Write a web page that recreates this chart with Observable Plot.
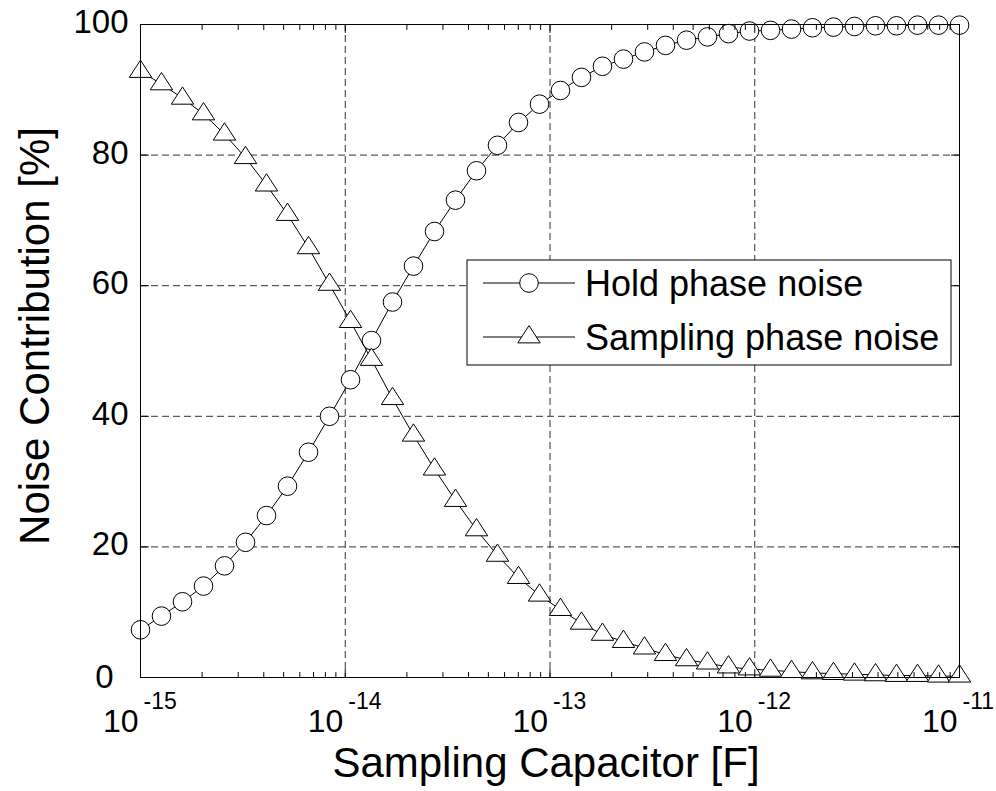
<!DOCTYPE html>
<html><head><meta charset="utf-8">
<script src="https://cdn.jsdelivr.net/npm/d3@7"></script>
<script src="https://cdn.jsdelivr.net/npm/@observablehq/plot@0.6"></script>
<style>
body{margin:0;background:#fff;}
#chart{position:relative;width:996px;height:791px;}
</style></head><body><div id="chart"></div>
<script>
// Sampling capacitor values [F] (40 log-spaced points from 1e-15 to 1e-11)
const capacitance = [
  1.000e-15, 1.266e-15, 1.604e-15, 2.031e-15, 2.572e-15, 3.257e-15, 4.125e-15, 5.223e-15, 6.615e-15, 8.377e-15,
  1.061e-14, 1.343e-14, 1.701e-14, 2.154e-14, 2.728e-14, 3.455e-14, 4.375e-14, 5.540e-14, 7.016e-14, 8.885e-14,
  1.125e-13, 1.425e-13, 1.804e-13, 2.285e-13, 2.894e-13, 3.665e-13, 4.642e-13, 5.878e-13, 7.443e-13, 9.427e-13,
  1.194e-12, 1.512e-12, 1.914e-12, 2.424e-12, 3.070e-12, 3.888e-12, 4.924e-12, 6.236e-12, 7.897e-12, 1.000e-11
];
// Hold phase noise contribution [%]
const holdNoise = [
  7.3, 9.4, 11.6, 14.0, 17.1, 20.7, 24.8, 29.3, 34.5, 40.0,
  45.6, 51.6, 57.5, 63.0, 68.3, 73.1, 77.6, 81.5, 85.0, 87.8,
  89.9, 91.9, 93.6, 94.7, 95.8, 96.8, 97.6, 98.1, 98.6, 99.0,
  99.1, 99.3, 99.5, 99.6, 99.7, 99.8, 99.8, 99.9, 99.9, 99.9
];
// Sampling phase noise contribution [%]
const samplingNoise = [
  92.8, 90.9, 88.7, 86.3, 83.2, 79.6, 75.4, 70.9, 65.8, 60.2,
  54.5, 48.7, 42.7, 37.1, 31.9, 27.1, 22.6, 18.7, 15.3, 12.6,
  10.4, 8.3, 6.6, 5.5, 4.5, 3.5, 2.7, 2.2, 1.6, 1.3,
  1.1, 0.9, 0.7, 0.6, 0.5, 0.4, 0.3, 0.3, 0.2, 0.2
];
const seriesNames = ["Hold phase noise", "Sampling phase noise"];
const xDomain = [1e-15, 1e-11];
const xMajorTicks = [1e-15, 1e-14, 1e-13, 1e-12, 1e-11];
const xTickBase = ["10", "10", "10", "10", "10"];
const xTickExponents = ["-15", "-14", "-13", "-12", "-11"];
const yTicks = [0, 20, 40, 60, 80, 100];
const yTickLabels = ["0", "20", "40", "60", "80", "100"];
const xLabel = "Sampling Capacitor [F]";
const yLabel = "Noise Contribution [%]";

const hold = capacitance.map((c, i) => ({c, v: holdNoise[i]}));
const samp = capacitance.map((c, i) => ({c, v: samplingNoise[i]}));
const xMinorTicks = d3.scaleLog().domain(xDomain).ticks()
  .filter(t => !xMajorTicks.some(m => Math.abs(m - t) / m < 1e-6));
const xTicksLab = xMajorTicks.map((t, i) => ({t, base: xTickBase[i], exp: xTickExponents[i]}));
const yTicksLab = yTicks.map((t, i) => ({t, label: yTickLabels[i]}));

const font = '"Liberation Sans", Arial, Helvetica, sans-serif';
const tickShape = {draw(ctx, l) { ctx.moveTo(0, 0); ctx.lineTo(0, -l); }};
const triangle = {draw(ctx, size) {
  const r = Math.sqrt(size / Math.PI);
  ctx.moveTo(0, -r * 1.2);
  ctx.lineTo(r * 1.18, r * 0.62);
  ctx.lineTo(-r * 1.18, r * 0.62);
  ctx.closePath();
}};
const grid = {stroke: "#333", strokeWidth: 1, strokeDasharray: "7,4"};
const tk = (data, opts) => Plot.vector(data, {anchor: "start", shape: tickShape, stroke: "#000", strokeWidth: 1, ...opts});

const plot = Plot.plot({
  width: 996, height: 791,
  marginLeft: 140, marginRight: 37, marginTop: 24, marginBottom: 114,
  style: {fontFamily: font, background: "#fff", color: "#000", overflow: "visible"},
  x: {type: "log", domain: xDomain, axis: null},
  y: {domain: [0, 100], axis: null},
  marks: [
    Plot.ruleX(xMajorTicks.slice(1, -1), {x: d => d, ...grid}),
    Plot.ruleY(yTicks.slice(1, -1), {y: d => d, ...grid}),
    Plot.line(hold, {x: "c", y: "v", stroke: "#000", strokeWidth: 1}),
    Plot.dot(hold, {x: "c", y: "v", r: 9.3, symbol: "circle", fill: "#fff", stroke: "#000", strokeWidth: 1}),
    Plot.line(samp, {x: "c", y: "v", stroke: "#000", strokeWidth: 1}),
    Plot.dot(samp, {x: "c", y: "v", r: 9.5, symbol: triangle, fill: "#fff", stroke: "#000", strokeWidth: 1}),
    Plot.frame({stroke: "#000", strokeWidth: 1}),
    // inward ticks
    tk(xMajorTicks, {x: d => d, frameAnchor: "bottom", rotate: 0, length: 8}),
    tk(xMinorTicks, {x: d => d, frameAnchor: "bottom", rotate: 0, length: 5}),
    tk(xMajorTicks, {x: d => d, frameAnchor: "top", rotate: 180, length: 8}),
    tk(xMinorTicks, {x: d => d, frameAnchor: "top", rotate: 180, length: 5}),
    tk(yTicks, {y: d => d, frameAnchor: "left", rotate: 90, length: 8}),
    tk(yTicks, {y: d => d, frameAnchor: "right", rotate: -90, length: 8}),
    // x tick labels: 10 with exponent
    Plot.text(xTicksLab, {x: "t", text: "base", frameAnchor: "bottom", textAnchor: "end", lineAnchor: "middle",
      fontSize: 32, dx: -2, dy: 44.5, fill: "#000"}),
    Plot.text(xTicksLab, {x: "t", text: "exp", frameAnchor: "bottom", textAnchor: "start", lineAnchor: "middle",
      fontSize: 23, dx: 3, dy: 24.5, fill: "#000"}),
    // y tick labels
    Plot.text(yTicksLab.filter(d => d.t > 0), {y: "t", text: "label", frameAnchor: "left", textAnchor: "end", lineAnchor: "middle",
      fontSize: 33, dx: -12, dy: -2, fill: "#000"}),
    Plot.text(yTicksLab.filter(d => d.t === 0), {y: "t", text: "label", frameAnchor: "left", textAnchor: "end", lineAnchor: "middle",
      fontSize: 33, dx: -27, dy: 0, fill: "#000"}),
    // axis titles
    Plot.text([xLabel], {text: d => d, frameAnchor: "bottom", textAnchor: "middle", lineAnchor: "middle",
      fontSize: 42, dx: -4, dy: 85.6, fill: "#000"}),
    Plot.text([yLabel], {text: d => d, frameAnchor: "left", textAnchor: "middle", lineAnchor: "middle", rotate: -90,
      fontSize: 42, dx: -105, dy: -15, fill: "#000"})
  ]
});
document.getElementById("chart").appendChild(plot);

// legend box (inside plot area, top right)
const svg = d3.select(plot);
const lg = svg.append("g").attr("font-family", font).attr("text-anchor", "start");
lg.append("rect").attr("x", 467).attr("y", 260).attr("width", 484).attr("height", 105)
  .attr("fill", "#fff").attr("stroke", "#000").attr("stroke-width", 1);
const rows = [
  {name: seriesNames[0], y: 283, sym: d3.symbolCircle, r: 9.3},
  {name: seriesNames[1], y: 337, sym: triangle, r: 9.5}
];
rows.forEach(row => {
  lg.append("line").attr("x1", 483).attr("x2", 575).attr("y1", row.y).attr("y2", row.y)
    .attr("stroke", "#000").attr("stroke-width", 1);
  lg.append("path").attr("d", d3.symbol(row.sym, Math.PI * row.r * row.r)())
    .attr("transform", `translate(529,${row.y})`).attr("fill", "#fff").attr("stroke", "#000");
  lg.append("text").attr("x", 585).attr("y", row.y + 13).attr("font-size", 36).attr("fill", "#000")
    .attr("text-anchor", "start").text(row.name);
});
</script></body></html>
